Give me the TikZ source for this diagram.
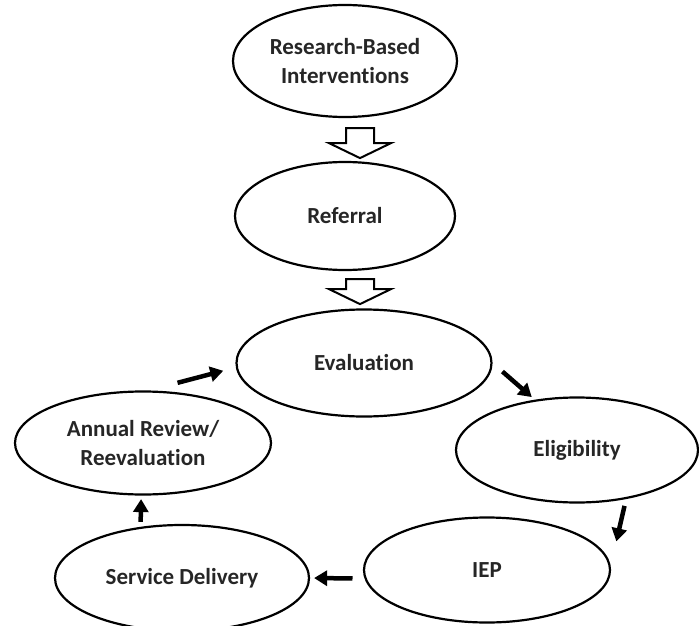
\documentclass[tikz,border=0pt]{standalone}
\usepackage{fontspec}
\setmainfont{Carlito}[Ligatures=NoCommon]
\usetikzlibrary{arrows.meta,calc,shapes.geometric}

\begin{document}
\begin{tikzpicture}[x=1pt,y=-1pt,
  stage/.style={ellipse,draw=black,line width=2.2pt,inner sep=0pt,align=center,font=\fontsize{23}{29}\selectfont\bfseries,text=black!85},
  flow/.style={-{Triangle[length=13pt,width=15pt]},line width=4.5pt},
  hollow/.style={draw=black,fill=white,line width=2pt,line join=miter}]
  \useasboundingbox (0,0) rectangle (699,626);
  % stages
  \node[stage,minimum width=224pt,minimum height=112pt] (research) at (345,61) {Research-Based\\Interventions};
  \node[stage,minimum width=220pt,minimum height=108pt] (referral) at (345,216) {Referral};
  \node[stage,minimum width=255pt,minimum height=107pt] (evaluation) at (364,363) {Evaluation};
  \node[stage,minimum width=242pt,minimum height=105pt] (eligibility) at (577,450) {Eligibility};
  \node[stage,minimum width=246pt,minimum height=105pt] (iep) at (487,570) {IEP};
  \node[stage,minimum width=254pt,minimum height=106pt] (service) at (182,578) {Service Delivery};
  \node[stage,minimum width=256pt,minimum height=103pt] (annual) at (143,443) {Annual Review/\\Reevaluation};
  % hollow block arrows
  \coordinate (a1) at ($(research.south)+(15,10)$);
  \coordinate (a2) at ($(referral.south)+(15,8)$);
  \foreach \c/\s in {a1/15,a2/10}{
    \draw[hollow] ($(\c)+(-14,0)$) -- ($(\c)+(14,0)$) -- ($(\c)+(14,\s)$) -- ($(\c)+(31,\s)$)
      -- ($(\c)+(0,\s+15)$) -- ($(\c)+(-31,\s)$) -- ($(\c)+(-14,\s)$) -- cycle;
  }
  % cycle arrows
  \draw[flow,shorten <=30pt,shorten >=13pt] (annual.84) -- (evaluation.182);
  \draw[flow,shorten <=13pt,shorten >=4pt] (evaluation.360) -- (eligibility.130);
  \draw[flow,shorten <=7pt,shorten >=25pt] (eligibility.315) -- (iep.2);
  \draw[flow,shorten <=12pt,shorten >=4pt] (iep.184) -- (service.east);
  \draw[flow,shorten <=5pt,shorten >=3.5pt] (service.129) -- (annual.268);
\end{tikzpicture}
\end{document}
